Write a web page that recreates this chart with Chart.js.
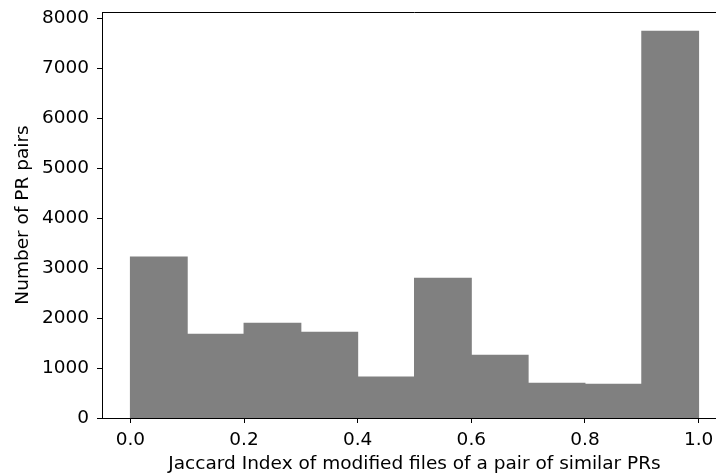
<!DOCTYPE html>
<html>
<head>
<meta charset="utf-8">
<script src="https://cdn.jsdelivr.net/npm/chart.js@4.4.1/dist/chart.umd.min.js"></script>
<style>
  html, body { margin: 0; padding: 0; overflow: hidden; background: #fff; }
  #wrap { position: absolute; left: 0; top: 0; width: 760px; height: 475px; }
</style>
</head>
<body>
<div id="wrap"><canvas id="c" width="760" height="475" style="width:760px;height:475px"></canvas></div>
<script>
// Histogram data (10 equal-width bins over [0, 1])
const binStarts = [0.0, 0.1, 0.2, 0.3, 0.4, 0.5, 0.6, 0.7, 0.8, 0.9];
const binWidth = 0.1;
const counts = [3220, 1675, 1895, 1715, 820, 2795, 1255, 695, 675, 7735];
const xTickValues = [0.0, 0.2, 0.4, 0.6, 0.8, 1.0];
const yTickValues = [0, 1000, 2000, 3000, 4000, 5000, 6000, 7000, 8000];
const xTitle = 'Jaccard Index of modified files of a pair of similar PRs';
const yTitle = 'Number of PR pairs';

const FONT = 'DejaVu Sans';
const FS = 18.5;
const points = binStarts.map((s, i) => ({ x: s + binWidth / 2, y: counts[i] }));

const topSpine = {
  id: 'topSpine',
  afterDraw(chart) {
    const { ctx, chartArea } = chart;
    ctx.save();
    ctx.strokeStyle = '#000';
    ctx.lineWidth = 1;
    ctx.beginPath();
    const y = Math.round(chartArea.top) + 0.5;
    ctx.moveTo(chartArea.left, y);
    ctx.lineTo(chartArea.right, y);
    ctx.stroke();
    ctx.restore();
  }
};

new Chart(document.getElementById('c'), {
  type: 'bar',
  data: {
    datasets: [{
      data: points,
      backgroundColor: '#808080',
      borderWidth: 0,
      barPercentage: 1.0,
      categoryPercentage: 1.0,
      inflateAmount: 0.5
    }]
  },
  options: {
    responsive: false,
    animation: false,
    devicePixelRatio: 1,
    layout: { padding: { left: 0, right: 33, top: 12, bottom: 0 } },
    plugins: { legend: { display: false }, tooltip: { enabled: false } },
    scales: {
      x: {
        type: 'linear',
        offset: false,
        min: -0.05,
        max: 1.05,
        afterBuildTicks(scale) { scale.ticks = xTickValues.map(v => ({ value: v })); },
        afterFit(scale) { scale.height = 57; scale.paddingLeft = 0; scale.paddingRight = 0; },
        ticks: {
          color: '#000',
          font: { family: FONT, size: FS },
          padding: 6,
          maxRotation: 0,
          autoSkip: false,
          callback: v => Number(v).toFixed(1)
        },
        grid: { display: true, drawOnChartArea: false, drawTicks: true, tickLength: 5, color: '#000', offset: false },
        border: { display: true, color: '#000', width: 1 },
        title: { display: true, text: xTitle, color: '#000', font: { family: FONT, size: FS }, padding: { top: 0, bottom: 0 } }
      },
      y: {
        type: 'linear',
        min: 0,
        max: 8122,
        afterBuildTicks(scale) { scale.ticks = yTickValues.map(v => ({ value: v })); },
        afterFit(scale) { scale.width = 102; scale.paddingTop = 0; scale.paddingBottom = 0; },
        ticks: {
          color: '#000',
          font: { family: FONT, size: FS },
          padding: 8,
          autoSkip: false,
          callback: v => String(v)
        },
        grid: { display: true, drawOnChartArea: false, drawTicks: true, tickLength: 5, color: '#000' },
        border: { display: true, color: '#000', width: 1 },
        title: { display: true, text: yTitle, color: '#000', font: { family: FONT, size: FS }, padding: { top: 12, bottom: 0 } }
      }
    }
  },
  plugins: [topSpine]
});
</script>
</body>
</html>
